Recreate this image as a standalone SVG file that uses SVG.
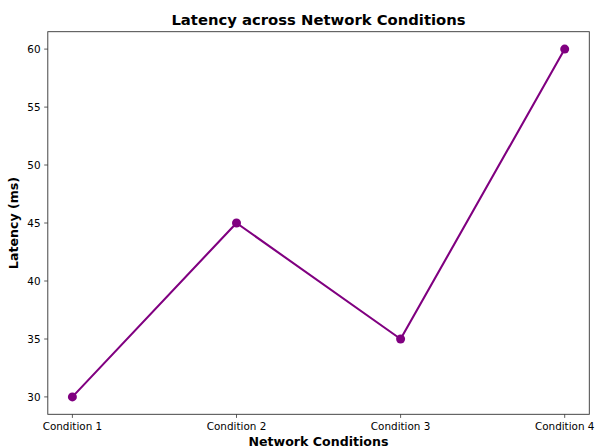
<svg xmlns="http://www.w3.org/2000/svg" width="596" height="448" viewBox="0 0 596 448">
  <style>
    text { font-family: "DejaVu Sans", "Liberation Sans", sans-serif; fill: #000; }
    .tick { font-size: 10.4px; fill: #222; }
    .title { font-size: 14.8px; font-weight: bold; }
    .label { font-size: 12.6px; font-weight: bold; }
    .tk { stroke: #333; stroke-width: 0.8; }
    .spine { fill: none; stroke: #333; stroke-width: 0.9; }
    .series { fill: none; stroke: #800080; stroke-width: 2.1; stroke-linejoin: round; stroke-linecap: round; }
    .pt { fill: #800080; }
  </style>
  <rect width="596" height="448" fill="#fff"/>

  <!-- title -->
  <text class="title" x="318.5" y="25" text-anchor="middle">Latency across Network Conditions</text>

  <!-- y axis ticks and labels -->
  <g id="y-axis">
    <g class="tk">
      <line x1="44.2" y1="49.1" x2="47.8" y2="49.1"/>
      <line x1="44.2" y1="107.1" x2="47.8" y2="107.1"/>
      <line x1="44.2" y1="165" x2="47.8" y2="165"/>
      <line x1="44.2" y1="223" x2="47.8" y2="223"/>
      <line x1="44.2" y1="281" x2="47.8" y2="281"/>
      <line x1="44.2" y1="339" x2="47.8" y2="339"/>
      <line x1="44.2" y1="396.9" x2="47.8" y2="396.9"/>
    </g>
    <g class="tick" text-anchor="end">
      <text x="40.6" y="52.8">60</text>
      <text x="40.6" y="110.8">55</text>
      <text x="40.6" y="168.7">50</text>
      <text x="40.6" y="226.7">45</text>
      <text x="40.6" y="284.7">40</text>
      <text x="40.6" y="342.7">35</text>
      <text x="40.6" y="400.6">30</text>
    </g>
    <text class="label" transform="translate(18,223) rotate(-90)" text-anchor="middle">Latency (ms)</text>
  </g>

  <!-- x axis ticks and labels -->
  <g id="x-axis">
    <g class="tk">
      <line x1="72.4" y1="414.3" x2="72.4" y2="417.9"/>
      <line x1="236.5" y1="414.3" x2="236.5" y2="417.9"/>
      <line x1="400.6" y1="414.3" x2="400.6" y2="417.9"/>
      <line x1="564.7" y1="414.3" x2="564.7" y2="417.9"/>
    </g>
    <g class="tick" text-anchor="middle">
      <text x="72.4" y="430">Condition 1</text>
      <text x="236.5" y="430">Condition 2</text>
      <text x="400.6" y="430">Condition 3</text>
      <text x="564.7" y="430">Condition 4</text>
    </g>
    <text class="label" x="318.5" y="446" text-anchor="middle">Network Conditions</text>
  </g>

  <!-- data line -->
  <g id="connectors">
    <polyline class="series" points="72.4,396.9 236.5,223 400.6,339 564.7,49.1"/>
  </g>
  <g id="p1"><circle class="pt" cx="72.4" cy="396.9" r="4.5"/></g>
  <g id="p2"><circle class="pt" cx="236.5" cy="223" r="4.5"/></g>
  <g id="p3"><circle class="pt" cx="400.6" cy="339" r="4.5"/></g>
  <g id="p4"><circle class="pt" cx="564.7" cy="49.1" r="4.5"/></g>

  <!-- axes frame -->
  <rect class="spine" x="47.8" y="31.7" width="541.5" height="382.6"/>
</svg>
